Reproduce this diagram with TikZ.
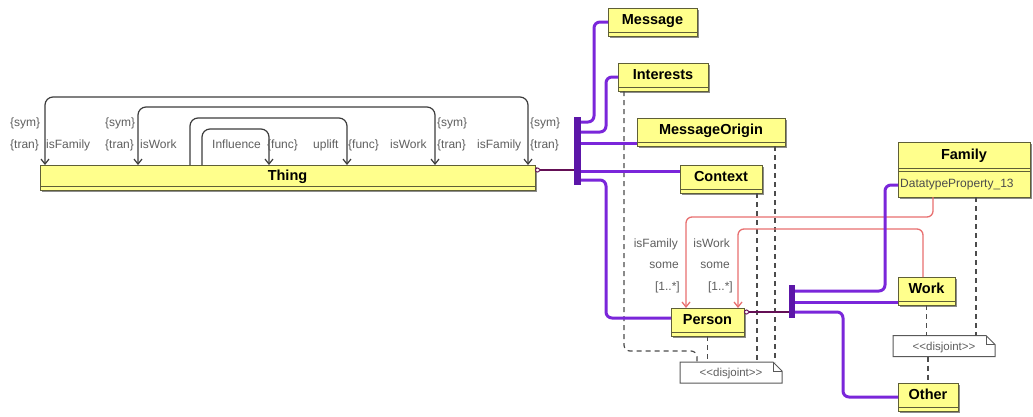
\documentclass[tikz,border=0pt]{standalone}
\usepackage{fontspec}
\setmainfont{Liberation Sans}
\usetikzlibrary{arrows.meta,calc,shadows}

\definecolor{boxfill}{RGB}{255,255,140}
\definecolor{boxline}{RGB}{95,95,55}
\definecolor{isapurple}{RGB}{122,38,218}
\definecolor{barpurple}{RGB}{92,22,168}
\definecolor{genline}{RGB}{100,15,85}
\definecolor{restrpink}{RGB}{232,112,112}
\definecolor{labelgray}{RGB}{95,95,95}
\definecolor{loopgray}{RGB}{60,60,60}

\tikzset{
  classbox/.style={draw=boxline, line width=1pt, fill=boxfill, inner sep=0pt, outer sep=0pt,
    minimum height=28pt, font=\fontsize{14.5}{16}\selectfont\bfseries,
    text height=10.4pt, text depth=4.5pt,
    drop shadow={shadow xshift=2pt, shadow yshift=-2pt, fill=black!45, opacity=1},
    path picture={\draw[boxline, line width=0.8pt]
      ([yshift=4pt]path picture bounding box.south west) --
      ([yshift=4pt]path picture bounding box.south east);}},
  cname/.style={inner sep=0pt, font=\fontsize{14.5}{16}\selectfont\bfseries, text height=10.4pt, text depth=0pt},
  sepline/.style={draw=boxline, line width=0.8pt},
  bar/.style={fill=barpurple, draw=none, inner sep=0pt, outer sep=0pt},
  isa/.style={draw=isapurple, line width=3pt, rounded corners=6pt},
  gen/.style={draw=genline, line width=2pt, {Circle[length=5pt, width=5pt, fill=white, line width=0.9pt]}-},
  restr/.style={draw=restrpink, line width=1.3pt, rounded corners=6pt, -{Straight Barb[length=5pt, width=8pt]}},
  loopline/.style={draw=loopgray, line width=1.2pt, rounded corners=8pt},
  tip/.style={-{Straight Barb[length=5pt, width=8pt]}},
  twotips/.style={{Straight Barb[length=5pt, width=8pt]}-{Straight Barb[length=5pt, width=8pt]}},
  disj/.style={draw=black!70, line width=1.2pt, dash pattern=on 5pt off 4pt, rounded corners=6pt},
  lbl/.style={text=labelgray, font=\fontsize{12}{14}\selectfont, inner sep=0pt, text height=8.6pt, text depth=0pt},
  notebox/.style={fill=white, inner sep=0pt, outer sep=0pt, minimum width=102pt, minimum height=21pt,
    font=\fontsize{11.5}{13}\selectfont, text=labelgray, text height=8.2pt, text depth=0pt},
  noteline/.style={draw=black!65, line width=1pt}
}

% outline of a UML note with a folded top right corner
\newcommand\notefold[1]{%
  \draw[noteline] (#1.north west) -- ($(#1.north east)+(-9,0)$) -- ($(#1.north east)+(0,9)$)
    -- (#1.south east) -- (#1.south west) -- cycle;
  \draw[noteline] ($(#1.north east)+(-9,0)$) -- ($(#1.north east)+(-9,9)$) -- ($(#1.north east)+(0,9)$);
}

\begin{document}
\begin{tikzpicture}[x=1pt, y=-1pt]
\path[use as bounding box, fill=white] (0,0) rectangle (1033,416);

% classes
\node[classbox, minimum width=495pt, minimum height=25pt] (thing) at (287.5,177.5) {Thing};
\node[classbox, minimum width=89pt] (message) at (652.5,22) {Message};
\node[classbox, minimum width=90pt] (interests) at (663,77) {Interests};
\node[classbox, minimum width=148pt] (mo) at (711,132) {MessageOrigin};
\node[classbox, minimum width=82pt] (context) at (721,179) {Context};
\node[classbox, minimum width=73pt] (person) at (707.5,322) {Person};
\node[classbox, minimum width=57pt] (work) at (926.5,291) {Work};
\node[classbox, minimum width=60pt] (other) at (928,397) {Other};
\node[classbox, minimum width=132pt, minimum height=55pt, path picture={}] (family) at (964,169.5) {};
\node[cname] (familyname) at (964,154) {Family};
\node[lbl, anchor=west, text=black!70] (familyprop) at (900,183) {DatatypeProperty\_13};
\draw[sepline] ($(family.north west)+(0,26)$) -- ($(family.north east)+(0,26)$);
\draw[sepline] ($(family.north west)+(0,29)$) -- ($(family.north east)+(0,29)$);

% disjointness notes
\node[notebox] (note1) at (731,372.5) {<\kern0pt<disjoint>\kern0pt>};
\node[notebox] (note2) at (944,346) {<\kern0pt<disjoint>\kern0pt>};
\notefold{note1}
\notefold{note2}

% generalisation bars
\node[bar, minimum width=7pt, minimum height=68pt] (bar1) at (577.5,151) {};
\node[bar, minimum width=6pt, minimum height=33pt] (bar2) at (792,301.5) {};

% object properties on Thing
\draw[loopline, twotips] ($(thing.north west)+(5,0)$) -- ++(0,-68) -| ($(thing.north west)+(488,0)$);
\draw[loopline, twotips] ($(thing.north west)+(98,0)$) -- ++(0,-58) -| ($(thing.north west)+(395,0)$);
\draw[loopline, tip] ($(thing.north west)+(150,0)$) -- ++(0,-47) -| ($(thing.north west)+(307,0)$);
\draw[loopline, tip] ($(thing.north west)+(162,0)$) -- ++(0,-36) -| ($(thing.north west)+(229,0)$);

\node[lbl, anchor=west] (s1) at (10,122) {\{sym\}};
\node[lbl, anchor=west] (t1) at (10,144) {\{tran\}};
\node[lbl, anchor=west] (p1) at (46,144) {isFamily};
\node[lbl, anchor=west] (s2) at (105,122) {\{sym\}};
\node[lbl, anchor=west] (t2) at (105,144) {\{tran\}};
\node[lbl, anchor=west] (p2) at (140,144) {isWork};
\node[lbl, anchor=west] (p3) at (212,144) {Influence};
\node[lbl, anchor=west] (f3) at (267,144) {\{func\}};
\node[lbl, anchor=west] (p4) at (313,144) {uplift};
\node[lbl, anchor=west] (f4) at (348,144) {\{func\}};
\node[lbl, anchor=west] (p5) at (390,144) {isWork};
\node[lbl, anchor=west] (s5) at (437,122) {\{sym\}};
\node[lbl, anchor=west] (t5) at (437,144) {\{tran\}};
\node[lbl, anchor=west] (p6) at (477,144) {isFamily};
\node[lbl, anchor=west] (s6) at (530,122) {\{sym\}};
\node[lbl, anchor=west] (t6) at (530,144) {\{tran\}};

% disjointness links
\draw[disj] ($(interests.south west)+(6,0)$) |- ($(note1.north west)+(17,-11)$) -- ($(note1.north west)+(17,0)$);
\draw[disj] (person.south) -- (person.south |- note1.north);
\coordinate (ctxd) at ($(context.south east)+(-5,0)$);
\draw[disj] (ctxd) -- (ctxd |- note1.north);
\coordinate (mod) at ($(mo.south east)+(-10,0)$);
\draw[disj] (mod) -- (mod |- note1.north);
\draw[disj] (work.south) -- (work.south |- note2.north);
\coordinate (famd) at ($(family.south east)+(-54,0)$);
\draw[disj] (famd) -- (famd |- note2.north);
\draw[disj] (other.north |- note2.south) -- (other.north);

% restrictions on Person
\draw[restr] ($(family.south west)+(35,0)$) -- ++(0,20) -| ($(person.north west)+(15,0)$);
\draw[restr] ($(work.north west)+(25,0)$) -- ++(0,-48) -| ($(person.north west)+(67,0)$);
\node[lbl, anchor=east] (r1) at (678,243) {isFamily};
\node[lbl, anchor=east] (r2) at (679,264) {some};
\node[lbl, anchor=east] (r3) at (680,286) {[1..*]};
\node[lbl, anchor=east] (r4) at (730,243) {isWork};
\node[lbl, anchor=east] (r5) at (730,264) {some};
\node[lbl, anchor=east] (r6) at (733,286) {[1..*]};

% subclass links
\coordinate (tg) at ($(thing.north east)+(0,5)$);
\draw[gen] (tg) -- (tg -| bar1.west);
\coordinate (b1a) at ($(bar1.north east)+(0,5)$);
\coordinate (b1b) at ($(bar1.north east)+(0,15)$);
\coordinate (b1c) at ($(bar1.north east)+(0,26)$);
\coordinate (b1d) at ($(bar1.north east)+(0,54)$);
\coordinate (b1e) at ($(bar1.north east)+(0,63)$);
\draw[isa] (b1a) -| ($(message.west)+(-14,0)$) -- (message.west);
\draw[isa] (b1b) -| ($(interests.west)+(-12,0)$) -- (interests.west);
\draw[isa] (b1c) -- (b1c -| mo.west);
\draw[isa] (b1d) -- (b1d -| context.west);
\draw[isa] (b1e) -- ++(25,0) |- ($(person.west)+(0,-4)$);

\coordinate (pg) at ($(person.north east)+(0,4)$);
\draw[gen] (pg) -- (pg -| bar2.west);
\coordinate (b2a) at ($(bar2.north east)+(0,6)$);
\coordinate (b2b) at ($(bar2.north east)+(0,17)$);
\coordinate (b2c) at ($(bar2.north east)+(0,27)$);
\draw[isa] (b2a) -| ($(family.west)+(-13,15.5)$) -- ($(family.west)+(0,15.5)$);
\draw[isa] (b2b) -- (b2b -| work.west);
\draw[isa] (b2c) -- ++(48,0) |- (other.west);
\end{tikzpicture}
\end{document}
